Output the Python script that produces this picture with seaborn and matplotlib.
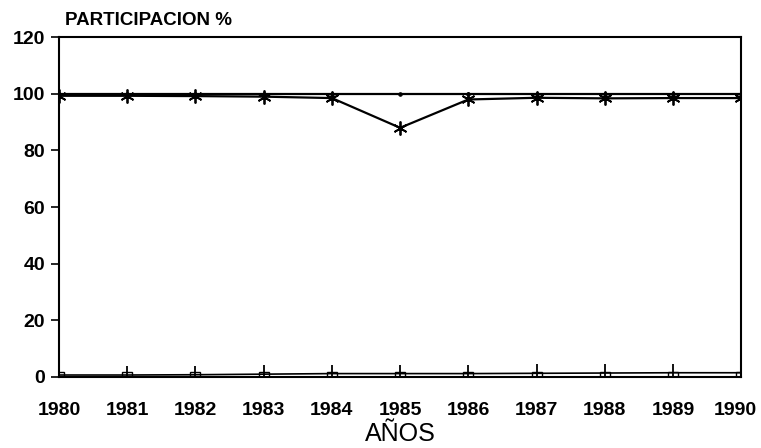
import numpy as np
import pandas as pd
import matplotlib
matplotlib.use("Agg")
import matplotlib.pyplot as plt
import matplotlib.transforms as mtransforms
import seaborn as sns

# Datos (participacion %)
anios = [1980, 1981, 1982, 1983, 1984, 1985, 1986, 1987, 1988, 1989, 1990]
total = [100, 100, 100, 100, 100, 100, 100, 100, 100, 100, 100]
serie_a = [99.3, 99.3, 99.2, 99.0, 98.5, 88.0, 98.0, 98.6, 98.4, 98.5, 98.5]
serie_b = [0.0, 0.0, 0.0, 0.0, 0.0, 0.0, 0.0, 0.0, 0.0, 0.0, 0.0]
serie_c = [0.7, 0.7, 0.8, 1.0, 1.2, 1.2, 1.2, 1.3, 1.4, 1.5, 1.5]

df = pd.DataFrame({"anio": anios, "total": total, "a": serie_a,
                   "b": serie_b, "c": serie_c})

sns.set_theme(style="white")
plt.rcParams['font.family'] = ['Liberation Sans', 'DejaVu Sans']

fig = plt.figure(figsize=(7.61, 4.48), dpi=100)
ax = fig.add_axes([0.0775, 0.1585, 0.8965, 0.7585])

# Total 100%
sns.lineplot(data=df, x="anio", y="total", ax=ax, color="black", lw=1.6,
             marker="o", markersize=2.5, markeredgecolor="black")
# Serie principal con asteriscos
sns.lineplot(data=df, x="anio", y="a", ax=ax, color="black", lw=1.6,
             marker=(6, 2, 0), markersize=10, markeredgewidth=1.3,
             markeredgecolor="black")
# Series cercanas a cero
sns.lineplot(data=df, x="anio", y="b", ax=ax, color="black", lw=1.4,
             marker="s", markersize=7, markerfacecolor="none",
             markeredgecolor="black", markeredgewidth=1.0)
sns.lineplot(data=df, x="anio", y="c", ax=ax, color="black", lw=1.2,
             marker="|", markersize=13, markeredgewidth=1.3,
             markeredgecolor="black")

ax.set_xlim(1980, 1990)
ax.set_ylim(0, 120)
ax.set_xticks(anios)
ax.set_xticklabels([str(a) for a in anios])
ax.set_yticks([0, 20, 40, 60, 80, 100, 120])

for s in ax.spines.values():
    s.set_color("black")
    s.set_linewidth(1.5)

ax.tick_params(axis="y", which="both", left=True, length=6, width=1.2,
               color="black", labelsize=14, pad=4)
ax.tick_params(axis="x", bottom=False, labelsize=14, pad=12)
for lbl in ax.get_xticklabels() + ax.get_yticklabels():
    lbl.set_fontweight("bold")
    lbl.set_color("black")
# la ultima etiqueta queda algo a la izquierda, como en el original
ult = ax.get_xticklabels()[-1]
ult.set_transform(ult.get_transform() +
                  mtransforms.ScaledTranslation(-6 / 100, 0, fig.dpi_scale_trans))

ax.set_xlabel("AÑOS", fontsize=18, color="black", labelpad=2)
ax.set_ylabel("")
fig.text(0.085, 0.955, "PARTICIPACION %", fontsize=13.5, fontweight="bold",
         color="black", ha="left", va="center")

fig.savefig("out.png", dpi=100, facecolor="white")
